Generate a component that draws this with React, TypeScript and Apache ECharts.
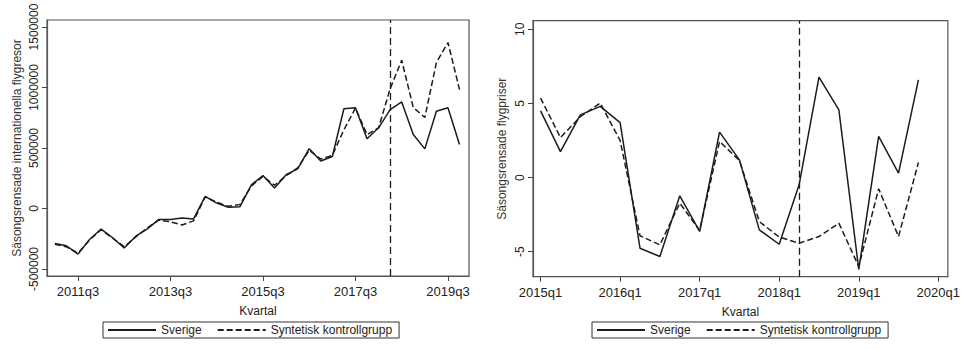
import React, { useEffect, useRef } from "react";
import * as echarts from "echarts";

// Left panel: quarters 2011q1 .. 2019q4 (index 0..35)
const leftSverige = [
  -290000, -308000, -377000, -256000, -170000, -242000, -327000, -229000,
  -168000, -90000, -90000, -79000, -86000, 100000, 45000, 10000,
  14000, 196000, 273000, 169000, 279000, 328000, 494000, 392000,
  430000, 824000, 832000, 576000, 667000, 818000, 881000, 612000,
  493000, 804000, 832000, 529000,
];
const leftSyntetisk = [
  -296000, -316000, -370000, -260000, -175000, -246000, -316000, -235000,
  -160000, -95000, -110000, -136000, -102000, 95000, 52000, 18000,
  32000, 186000, 266000, 192000, 270000, 335000, 482000, 408000,
  440000, 650000, 830000, 610000, 667000, 990000, 1225000, 835000,
  752000, 1206000, 1372000, 983000,
];
const leftTickIdx = [2, 10, 18, 26, 34];
const leftTickLabels = ["2011q3", "2013q3", "2015q3", "2017q3", "2019q3"];
const leftYTicks = [-500000, 0, 500000, 1000000, 1500000];
const leftTreatIdx = 29; // 2018q2

// Right panel: quarters 2015q1 .. 2019q4 (index 0..19)
const rightSverige = [
  4.5, 1.75, 4.23, 4.8, 3.7, -4.77, -5.33, -1.23, -3.64, 3.06,
  1.19, -3.53, -4.5, -0.49, 6.77, 4.57, -6.2, 2.77, 0.3, 6.59,
];
const rightSyntetisk = [
  5.36, 2.7, 4.1, 5.02, 2.5, -3.93, -4.54, -1.73, -3.57, 2.43,
  1.15, -2.97, -4.02, -4.43, -3.98, -3.08, -6.0, -0.76, -3.98, 1.01,
];
const rightTickIdx = [0, 4, 8, 12, 16, 20];
const rightTickLabels = ["2015q1", "2016q1", "2017q1", "2018q1", "2019q1", "2020q1"];
const rightYTicks = [-5, 0, 5, 10];
const rightTreatIdx = 13; // 2018q2

const seriesNames = ["Sverige", "Syntetisk kontrollgrupp"];

const FONT = "'Liberation Sans', Arial, Helvetica, sans-serif";
const LINE = "#1c1c1c";
const FRAME = "#555555";

export default function App() {
  const ref = useRef<HTMLDivElement>(null);

  useEffect(() => {
    if (!ref.current) return;
    const chart = echarts.init(ref.current, undefined, { renderer: "svg" });

    const pairs = (arr: number[]) => arr.map((v, i) => [i, v]);

    const xAxisBase = (gridIndex: number, min: number, max: number, ticks: number[], labels: string[]) => ({
      type: "value",
      gridIndex,
      min,
      max,
      name: "Kvartal",
      nameLocation: "middle",
      nameGap: 29,
      nameTextStyle: { fontFamily: FONT, fontSize: 12, color: "#222" },
      splitLine: { show: false },
      axisLine: { show: true, onZero: false, lineStyle: { color: FRAME, width: 1.2 } },
      axisTick: { show: true, length: 5, customValues: ticks, lineStyle: { color: "#444", width: 1 } },
      axisLabel: {
        customValues: ticks,
        margin: 9,
        fontFamily: FONT,
        fontSize: 13,
        color: "#222",
        formatter: (v: number) => {
          const k = ticks.indexOf(Math.round(v));
          return k >= 0 ? labels[k] : "";
        },
      },
    });

    const yAxisBase = (gridIndex: number, min: number, max: number, ticks: number[], name: string, nameColor: string, gap: number) => ({
      type: "value",
      gridIndex,
      min,
      max,
      name,
      nameLocation: "middle",
      nameGap: gap,
      nameRotate: 90,
      nameTextStyle: { fontFamily: FONT, fontSize: 12, color: nameColor },
      splitLine: { show: false },
      axisLine: { show: true, onZero: false, lineStyle: { color: FRAME, width: 1.2 } },
      axisTick: { show: true, length: 5, customValues: ticks, lineStyle: { color: "#444", width: 1 } },
      axisLabel: {
        customValues: ticks,
        rotate: 90,
        margin: 7,
        fontFamily: FONT,
        fontSize: 12,
        color: "#222",
        formatter: (v: number) => String(v),
      },
    });

    const markLine = (x: number) => ({
      silent: true,
      symbol: "none",
      label: { show: false },
      lineStyle: { color: LINE, type: [7, 4], width: 1.3 },
      data: [{ xAxis: x }],
    });

    const legendBase = (left: number) => ({
      left,
      top: 322,
      orient: "horizontal",
      data: seriesNames,
      itemWidth: 48,
      itemHeight: 12,
      itemGap: 15,
      padding: [2, 7, 2, 4],
      borderColor: "#333",
      borderWidth: 1,
      selectedMode: false,
      itemStyle: { opacity: 0 },
      textStyle: { fontFamily: FONT, fontSize: 12, color: "#222" },
    });

    const solidStyle = { color: LINE, width: 1.5, type: "solid" };
    const dashStyle = { color: LINE, width: 1.5, type: [6, 3] };

    chart.setOption({
      animation: false,
      backgroundColor: "#ffffff",
      grid: [
        { left: 47, top: 20, width: 422, height: 256, show: true, borderColor: FRAME, borderWidth: 1.2, containLabel: false },
        { left: 533, top: 20.7, width: 419, height: 256, show: true, borderColor: FRAME, borderWidth: 1.2, containLabel: false },
      ],
      xAxis: [
        xAxisBase(0, -0.68, 35.82, leftTickIdx, leftTickLabels),
        xAxisBase(1, -0.38, 20.48, rightTickIdx, rightTickLabels),
      ],
      yAxis: [
        yAxisBase(0, -558000, 1558000, leftYTicks, "Säsongsrensade internationella flygresor", "#333", 24),
        yAxisBase(1, -6.69, 10.58, rightYTicks, "Säsongsrensade flygpriser", "#3d3430", 25),
      ],
      legend: [legendBase(103), legendBase(592)],
      series: [
        {
          name: seriesNames[0],
          type: "line",
          xAxisIndex: 0,
          yAxisIndex: 0,
          data: pairs(leftSverige),
          symbol: "none",
          showSymbol: false,
          lineStyle: solidStyle,
          itemStyle: { color: LINE },
          markLine: markLine(leftTreatIdx),
        },
        {
          name: seriesNames[1],
          type: "line",
          xAxisIndex: 0,
          yAxisIndex: 0,
          data: pairs(leftSyntetisk),
          symbol: "none",
          showSymbol: false,
          lineStyle: dashStyle,
          itemStyle: { color: LINE },
        },
        {
          name: seriesNames[0],
          type: "line",
          xAxisIndex: 1,
          yAxisIndex: 1,
          data: pairs(rightSverige),
          symbol: "none",
          showSymbol: false,
          lineStyle: solidStyle,
          itemStyle: { color: LINE },
          markLine: markLine(rightTreatIdx),
        },
        {
          name: seriesNames[1],
          type: "line",
          xAxisIndex: 1,
          yAxisIndex: 1,
          data: pairs(rightSyntetisk),
          symbol: "none",
          showSymbol: false,
          lineStyle: dashStyle,
          itemStyle: { color: LINE },
        },
      ],
    });

    return () => chart.dispose();
  }, []);

  return (
    <div
      ref={ref}
      style={{ position: "fixed", left: 0, top: 0, width: 963, height: 349, background: "#fff" }}
    />
  );
}
